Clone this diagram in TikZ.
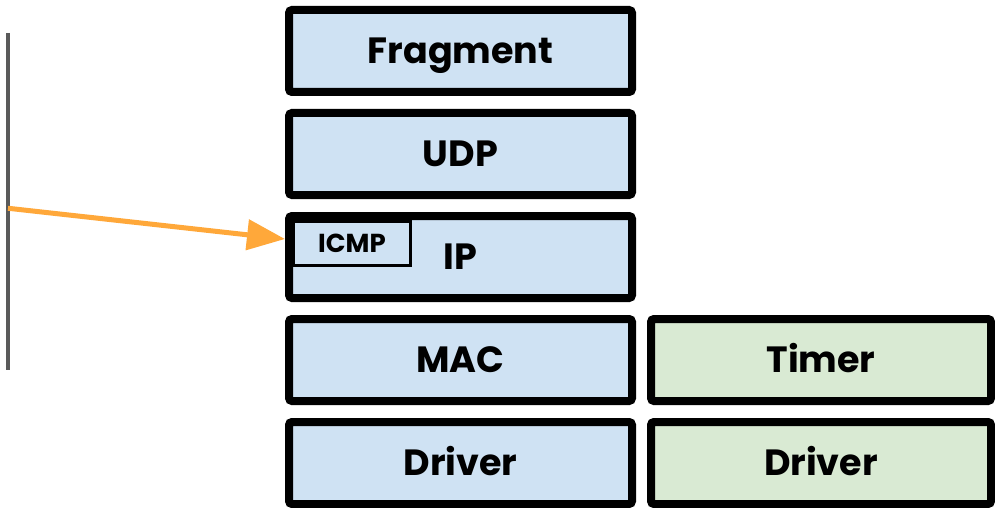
\documentclass[tikz,border=0pt]{standalone}
\usepackage{fontspec}
\setmainfont{Poppins}
\usetikzlibrary{arrows.meta,shadows,calc}
\definecolor{bluefill}{RGB}{207,226,243}
\definecolor{greenfill}{RGB}{217,234,211}
\definecolor{orangearrow}{RGB}{255,168,58}
\definecolor{grayline}{RGB}{90,90,90}
\tikzset{
  layer/.style={draw=black, line width=8pt, rounded corners=3pt, inner sep=0pt,
    minimum width=343pt, minimum height=82pt, font=\fontsize{36.5}{40}\selectfont\bfseries,
    text height=25.5pt, text depth=0pt,
    drop shadow={shadow xshift=2.5pt, shadow yshift=-2.5pt, opacity=0.45, fill=black}},
  bluelayer/.style={layer, fill=bluefill},
  greenlayer/.style={layer, fill=greenfill, minimum width=340pt},
  sublayer/.style={draw=black, line width=3.5pt, fill=bluefill, inner sep=0pt,
    minimum width=117pt, minimum height=44pt, font=\fontsize{26}{30}\selectfont\bfseries,
    text height=18pt, text depth=0pt,
    drop shadow={shadow xshift=1.5pt, shadow yshift=-1.5pt, opacity=0.35, fill=black}},
  pointer/.style={draw=orangearrow, line width=5pt, -{Triangle[length=38pt,width=30pt]}},
  sideline/.style={draw=grayline, line width=3.5pt}
}
\begin{document}
\begin{tikzpicture}[x=1pt,y=-1pt]
\useasboundingbox (0,0) rectangle (995,508);
\node[bluelayer] (frag) at (460.5,51) {Fragment};
\node[bluelayer] (udp) at (460.5,154) {UDP};
\node[bluelayer] (ip) at (460.5,257) {IP};
\node[bluelayer] (mac) at (460.5,360) {MAC};
\node[bluelayer] (drv) at (460.5,463) {Driver};
\node[greenlayer] (timer) at (821,360) {Timer};
\node[greenlayer] (gdrv) at (821,463) {Driver};
\node[sublayer] (icmp) at (352,243.5) {ICMP};
\coordinate (lt) at (8,33);
\coordinate (lb) at (8,370);
\draw[sideline] (lt) -- (lb);
\draw[pointer] ($(lt)!0.52!(lb)$) -- ($(ip.north west)!0.3!(ip.south west)$);
\end{tikzpicture}
\end{document}
